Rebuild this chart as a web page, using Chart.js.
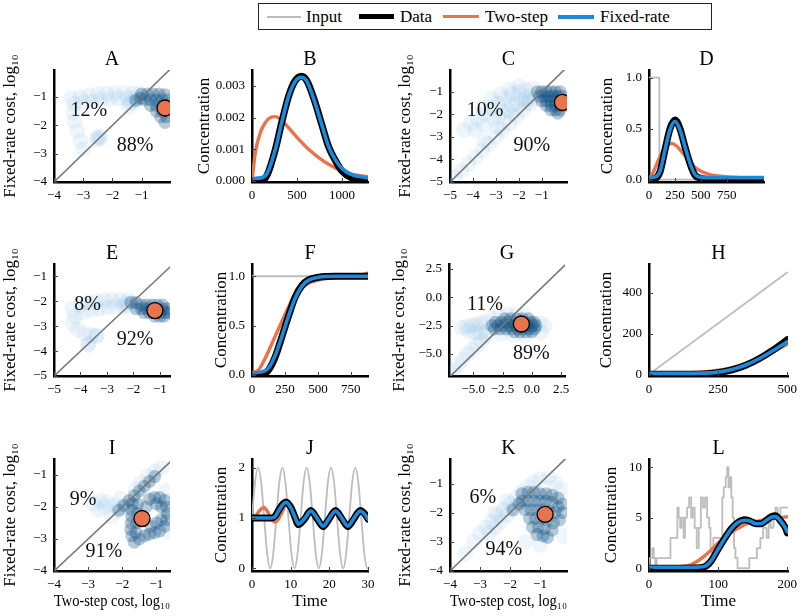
<!DOCTYPE html>
<html><head><meta charset="utf-8">
<script src="https://cdn.jsdelivr.net/npm/chart.js@4/dist/chart.umd.min.js"></script>
<style>
html,body{margin:0;padding:0;background:#fff;}
body{width:800px;height:616px;position:relative;overflow:hidden;font-family:'Liberation Serif','DejaVu Serif',serif;}
canvas{position:absolute;}
#legend{position:absolute;left:258px;top:3px;width:452px;height:25px;border:1px solid #222;background:#fff;z-index:5;}
#legend .sw{position:absolute;top:12px;}
#legend .tx{position:absolute;top:3px;font-size:17px;line-height:19px;color:#000;white-space:nowrap;}
</style></head>
<body>
<div id="legend">
  <div class="sw" style="left:8px;width:34px;height:2px;background:#BDBDBD"></div><div class="tx" style="left:47px">Input</div>
  <div class="sw" style="left:100px;width:35px;height:5px;background:#000;margin-top:-2px"></div><div class="tx" style="left:141px">Data</div>
  <div class="sw" style="left:184px;width:36px;height:3px;background:#E6744C;margin-top:-1px"></div><div class="tx" style="left:226px">Two-step</div>
  <div class="sw" style="left:299px;width:36px;height:4px;background:#1C8ADB;margin-top:-1px"></div><div class="tx" style="left:341px">Fixed-rate</div>
</div>
<script>
// ---------------- DATA ----------------
// tick labels
const ticksA = [-4,-3,-2,-1];
const ticksC = [-5,-4,-3,-2,-1];
const ticksG = [-5,-2.5,0,2.5];
const ticksBx = [0,500,1000];
const ticksBy = [0,0.001,0.002,0.003];
const ticksDx = [0,250,500,750];
const ticksDy = [0,0.5,1.0];
const ticksHx = [0,250,500];
const ticksHy = [0,200,400];
const ticksJx = [0,10,20,30];
const ticksJy = [0,1,2];
const ticksLx = [0,100,200];
const ticksLy = [0,5,10];

// panel B
const bT     = [0,100,170,260,330,410,480,550,610,690,780,850,930,1000,1110,1290];
const bData  = [0,0.00001,0.0002,0.001,0.00184,0.0027,0.00316,0.0033,0.00316,0.00258,0.00174,0.0011,0.00063,0.00032,0.0001,0.00003];
const bFixed = [0.00008,0.0001,0.00025,0.001,0.00184,0.0027,0.00314,0.00327,0.00314,0.00256,0.00174,0.0011,0.00065,0.0004,0.0002,0.0001];
const bTwoT  = [0,37,93,148,204,259,315,407,519,630,741,852,1000,1148,1290];
const bTwo   = [0,0.0009,0.00153,0.00184,0.002,0.00203,0.00195,0.00168,0.00132,0.001,0.00074,0.00053,0.00032,0.00019,0.00014];

// panel D
const dInT   = [0,100,100,1110];
const dIn    = [1,1,0,0];
const dT     = [0,58,106,154,203,251,299,348,396,444,492,589,1110];
const dData  = [0,0.01,0.075,0.29,0.5,0.584,0.5,0.32,0.157,0.043,0.016,0,0];
const dFixed = [0.02,0.025,0.08,0.29,0.49,0.57,0.49,0.32,0.16,0.05,0.025,0.02,0.02];
const dTwoT  = [0,42,90,138,187,219,267,331,396,460,557,685,879,1110];
const dTwo   = [0,0.075,0.19,0.29,0.35,0.354,0.33,0.256,0.174,0.108,0.06,0.033,0.02,0.016];

// panel F
const fInT   = [0,880];
const fIn    = [1,1];
const fT     = [0,76,126,177,227,278,328,379,429,505,631,880];
const fData  = [0,0,0.05,0.185,0.386,0.6,0.79,0.906,0.963,0.99,1.0,1.0];
const fFixed = [0.02,0.03,0.07,0.2,0.39,0.6,0.78,0.9,0.96,0.99,1.0,1.0];
const fTwoT  = [0,51,101,152,202,253,303,354,429,530,657,783,880];
const fTwo   = [0.02,0.05,0.17,0.32,0.47,0.62,0.755,0.856,0.93,0.97,0.99,1.0,1.03];

// panel H
const hInT   = [0,500];
const hIn    = [0,500];
const hT     = [0,100,200,250,300,350,400,450,500];
const hData  = [0,0,2,8,22,45,78,120,170];
const hFixed = [5,5,6,11,24,46,78,118,160];
const hTwo   = [5,7,12,20,33,52,80,112,148];

// panel J
const jInT   = [0,0.79,1.57,2.36,3.14,3.93,4.71,5.5,6.28,7.07,7.85,8.64,9.42,10.21,11.0,11.78,12.57,13.35,14.14,14.92,15.71,16.49,17.28,18.06,18.85,19.63,20.42,21.21,21.99,22.78,23.56,24.35,25.13,25.92,26.7,27.49,28.27,29.06,29.85,30];
const jIn    = [1,1.71,2,1.71,1,0.29,0,0.29, 1,1.71,2,1.71,1,0.29,0,0.29, 1,1.71,2,1.71,1,0.29,0,0.29, 1,1.71,2,1.71,1,0.29,0,0.29, 1,1.71,2,1.71,1,0.29,0,0.01];
const jT     = [0,3,5,6,7,8,8.8,10,11,12,13.6,15.2,16.8,18.4,20,21.6,23.2,24.8,26.4,28,29.2,30];
const jData  = [1,1,1,1.04,1.17,1.28,1.32,1.22,1.04,0.87,0.98,1.15,0.99,0.83,0.99,1.15,0.99,0.83,0.99,1.15,1.08,0.98];
const jFixed = [1,1,1,1.03,1.16,1.27,1.31,1.21,1.04,0.88,0.99,1.14,1.0,0.84,1.0,1.14,1.0,0.84,1.0,1.14,1.07,0.98];
const jTwoT  = [0,1,2,3,4,5,6,7,8,8.8,10,11,12,13.6,15.2,16.8,18.4,20,21.6,23.2,24.8,26.4,28,29.2,30];
const jTwo   = [1,1.05,1.15,1.21,1.13,0.98,0.92,1.0,1.15,1.28,1.2,1.03,0.88,0.99,1.14,0.99,0.84,0.99,1.14,0.99,0.84,0.99,1.14,1.07,0.98];

// panel L
const lInT   = [0,5,7,9,11,31,41,43,45,47,50,52,55,58,61,63,66,69,72,75,78,81,84,87,89,91,93,106,108,111,113,115,117,119,121,123,125,128,145,156,161,165,170,173,176,180,183,186,190,193,200];
const lIn    = [0,1,2,1,0,1,3,6,5,4,5,3,5,6,7,5,6,4,2,4,7,6,7,5,4,2,1,3,7,8,9,10,8,9,7,5,2,1,0,1,2,3,4,3,5,4,5,6,5,6,6];
const lT     = [0,60,75,83,90,100,109,119,128,138,145,155,162,169,177,183,190,198,200];
const lData  = [0,0,0.05,0.23,0.73,1.9,2.9,3.9,4.5,4.8,4.7,4.4,4.4,4.7,5.1,5.2,4.7,3.9,3.5];
const lFixed = [0.1,0.1,0.12,0.28,0.75,1.9,2.9,3.9,4.5,4.75,4.7,4.4,4.4,4.7,5.05,5.1,4.7,3.9,3.6];
const lTwoT  = [0,40,50,60,70,80,90,100,110,120,130,140,150,160,170,180,190,200];
const lTwo   = [0.1,0.15,0.2,0.35,0.7,1.2,1.8,2.5,3.1,3.6,4.0,4.35,4.55,4.7,4.85,4.95,5.0,5.1];

// scatter panels: cost clouds [two-step, fixed-rate] (log10), best-fit marker, percentages
const aCloud = [[-3.4,-1.05],[-3.1,-1.0],[-2.8,-0.95],[-2.5,-0.9],[-2.2,-0.88],[-1.9,-0.86],[-1.6,-0.86],[-1.3,-0.86],[-1.1,-0.9],[-3.3,-1.25],[-3.0,-1.2],[-2.7,-1.15],[-2.4,-1.1],[-2.1,-1.08],[-1.8,-1.06],[-1.5,-1.05],[-3.35,-1.55],[-3.3,-1.85],[-3.2,-2.2],[-3.1,-2.55],[-3.0,-2.85],[-2.55,-2.45],[-2.5,-2.5],[-2.45,-2.4],[-2.4,-2.45],[-1.45,-1.35],[-1.3,-1.22],[-1.15,-1.1],[-1.0,-1.0],[-1.4,-1.2],[-1.2,-1.05]];
const aCore  = [[-1.0,-0.9],[-0.8,-0.9],[-0.6,-0.9],[-0.4,-0.9],[-0.2,-0.92],[-0.9,-1.1],[-0.7,-1.1],[-0.5,-1.1],[-0.3,-1.1],[-0.1,-1.1],[-0.7,-1.3],[-0.5,-1.3],[-0.3,-1.3],[-0.1,-1.3],[-0.5,-1.5],[-0.3,-1.5],[-0.1,-1.5],[-0.35,-1.7],[-0.15,-1.7],[-0.2,-1.9],[-1.2,-1.12],[-1.05,-1.05]];
const aMarker = [-0.2,-1.39];
const pctA = ['12%','88%'];

const cCloud = [[-4.4,-2.7],[-4.1,-2.4],[-3.8,-2.2],[-3.5,-2.0],[-3.2,-1.7],[-2.9,-1.5],[-2.6,-1.3],[-2.3,-1.1],[-2.0,-1.0],[-1.7,-0.9],[-1.4,-0.85],[-3.9,-2.7],[-3.5,-2.5],[-3.1,-2.2],[-2.7,-1.9],[-2.3,-1.6],[-1.9,-1.4],[-1.5,-1.2],[-3.6,-1.7],[-3.2,-1.3],[-2.8,-1.1],[-2.4,-0.9],[-2.0,-0.75],[-2.9,-2.1],[-2.5,-1.8],[-2.1,-1.5],[-1.7,-1.3],[-4.8,-4.8],[-4.5,-4.5],[-4.2,-4.2],[-3.9,-3.9],[-3.6,-3.6],[-3.3,-3.3],[-3.0,-3.0],[-2.7,-2.7],[-2.4,-2.4],[-2.1,-2.1],[-1.8,-1.8],[-1.5,-1.5],[-1.3,-1.3],[-3.5,-3.2],[-2.9,-2.6],[-2.3,-2.0],[-1.7,-1.5]];
const cCore  = [[-1.2,-1.0],[-1.0,-1.0],[-0.8,-1.0],[-0.6,-1.0],[-0.4,-1.0],[-0.2,-1.0],[-1.1,-1.2],[-0.9,-1.2],[-0.7,-1.2],[-0.5,-1.2],[-0.3,-1.2],[-0.1,-1.2],[-1.0,-1.4],[-0.8,-1.4],[-0.6,-1.4],[-0.4,-1.4],[-0.2,-1.4],[-0.05,-1.4],[-0.8,-1.6],[-0.6,-1.6],[-0.4,-1.6],[-0.2,-1.6],[-0.05,-1.6],[-0.6,-1.8],[-0.4,-1.8],[-0.2,-1.8],[-0.3,-1.95]];
const cMarker = [-0.1,-1.47];
const pctC = ['10%','90%'];

const eCloud = [[-4.3,-2.3],[-4.0,-2.15],[-3.7,-2.05],[-3.4,-2.0],[-3.1,-1.95],[-2.8,-1.95],[-2.5,-1.95],[-2.2,-1.95],[-4.2,-2.6],[-3.9,-2.45],[-3.6,-2.35],[-3.3,-2.3],[-3.0,-2.25],[-2.7,-2.2],[-2.4,-2.2],[-4.3,-2.9],[-4.1,-3.15],[-3.85,-3.3],[-3.6,-3.35],[-3.72,-3.72],[-3.7,-3.75],[-3.4,-3.4],[-3.38,-3.36],[-2.2,-2.2],[-2.05,-2.05],[-2.3,-2.1]];
const eCore  = [[-2.1,-2.05],[-1.9,-2.05],[-1.7,-2.15],[-1.5,-2.15],[-1.3,-2.15],[-1.1,-2.15],[-0.9,-2.15],[-1.9,-2.3],[-1.7,-2.3],[-1.5,-2.3],[-1.3,-2.3],[-1.1,-2.3],[-0.9,-2.3],[-0.72,-2.3],[-1.6,-2.45],[-1.4,-2.45],[-1.2,-2.45],[-1.0,-2.45],[-0.8,-2.45],[-0.68,-2.45],[-1.2,-2.6],[-1.0,-2.6],[-0.85,-2.6]];
const eMarker = [-1.19,-2.37];
const pctE = ['8%','92%'];

const gCloud = [[-6.7,-6.5],[-6.3,-6.0],[-5.9,-5.5],[-5.5,-5.0],[-5.1,-4.6],[-4.7,-4.2],[-4.3,-3.8],[-3.9,-3.4],[-6.0,-2.7],[-5.6,-2.6],[-5.2,-2.5],[-4.8,-2.4],[-4.4,-2.3],[-4.0,-2.2],[-5.4,-3.0],[-4.9,-3.1],[-4.4,-3.1],[-3.9,-3.05],[-3.4,-1.9],[-2.8,-1.6],[-2.1,-1.5],[-1.4,-1.5],[-0.6,-1.6],[0.7,-2.3],[1.1,-2.5],[0.8,-3.1],[-0.6,-3.4],[-1.6,-3.3],[-2.6,-3.2]];
const gCore  = [[-2.3,-1.9],[-1.8,-1.9],[-1.3,-1.9],[-0.8,-1.9],[-0.3,-1.9],[-3.1,-2.2],[-2.6,-2.2],[-2.1,-2.2],[-1.6,-2.2],[-1.1,-2.2],[-0.6,-2.2],[-0.1,-2.2],[0.2,-2.2],[-3.4,-2.5],[-2.9,-2.5],[-2.4,-2.5],[-1.9,-2.5],[-1.4,-2.5],[-0.9,-2.5],[-0.4,-2.5],[0.1,-2.5],[0.35,-2.5],[-3.2,-2.8],[-2.7,-2.8],[-2.2,-2.8],[-1.7,-2.8],[-1.2,-2.8],[-0.7,-2.8],[-0.2,-2.8],[0.25,-2.8],[-1.5,-3.05],[-1.0,-3.05],[-0.5,-3.05],[0.0,-3.05]];
const gMarker = [-0.89,-2.36];
const pctG = ['11%','89%'];

const iCloud = [[-2.85,-1.9],[-2.65,-1.8],[-2.45,-1.85],[-2.25,-1.95],[-2.7,-2.1],[-2.05,-1.75],[-1.95,-1.95],[-2.3,-2.3],[-2.1,-2.1],[-1.9,-2.05],[-1.6,-1.45],[-1.45,-1.25],[-1.25,-1.05],[-1.05,-0.9],[-0.85,-0.78],[-0.7,-1.5],[-0.65,-2.8],[-2.5,-2.0]];
const iCore  = [[-2.1,-2.1],[-1.95,-1.95],[-1.8,-1.8],[-1.65,-1.65],[-1.5,-1.5],[-1.35,-1.35],[-1.2,-1.2],[-1.05,-1.05],[-1.7,-1.9],[-1.72,-2.1],[-1.72,-2.3],[-1.74,-2.5],[-1.75,-2.7],[-1.72,-2.9],[-1.65,-3.1],[-1.55,-1.9],[-1.55,-2.2],[-1.58,-2.5],[-1.6,-2.8],[-1.5,-3.0],[-1.35,-2.9],[-1.2,-2.85],[-1.05,-2.8],[-0.9,-2.75],[-1.2,-1.75],[-1.05,-1.7],[-0.9,-1.7],[-0.75,-1.8],[-0.7,-2.0],[-0.68,-2.2],[-0.7,-2.4],[-0.75,-2.6],[-0.85,-2.0],[-1.0,-1.9],[-0.85,-2.4],[-1.0,-2.5],[-1.15,-2.6],[-1.3,-2.0]];
const iMarker = [-1.42,-2.36];
const pctI = ['9%','91%'];

const kCloud = [[-3.2,-3.0],[-3.0,-2.7],[-2.8,-2.5],[-2.6,-2.3],[-2.4,-2.1],[-2.2,-1.9],[-2.0,-1.7],[-1.8,-1.5],[-1.6,-1.3],[-1.4,-1.1],[-1.2,-0.95],[-1.0,-0.85],[-0.7,-0.8],[-2.7,-2.7],[-2.3,-2.3],[-1.9,-1.9],[-2.5,-2.0],[-2.1,-1.6],[-0.3,-1.2],[-0.2,-2.8],[-1.5,-3.0],[-1.0,-3.1],[-3.5,-3.4],[-0.5,-1.0],[-2.5,-2.5],[-2.1,-2.1],[-1.7,-1.7]];
const kCore  = [[-1.6,-1.35],[-1.4,-1.3],[-1.2,-1.3],[-1.0,-1.35],[-0.8,-1.35],[-0.6,-1.4],[-0.4,-1.5],[-0.25,-1.7],[-1.6,-1.6],[-1.4,-1.6],[-1.2,-1.6],[-1.0,-1.6],[-0.8,-1.6],[-0.6,-1.65],[-0.4,-1.8],[-0.25,-2.0],[-1.5,-1.9],[-1.3,-1.9],[-1.1,-1.9],[-0.9,-1.9],[-0.7,-1.95],[-0.5,-2.0],[-0.35,-2.25],[-1.35,-2.2],[-1.15,-2.2],[-0.95,-2.2],[-0.75,-2.25],[-0.55,-2.35],[-1.25,-2.5],[-1.05,-2.5],[-0.85,-2.55],[-0.6,-2.6],[-1.1,-2.75],[-0.9,-2.8],[-0.75,-2.85],[-1.9,-1.9],[-1.7,-1.7]];
const kMarker = [-0.83,-2.06];
const pctK = ['6%','94%'];

// ---------------- STYLE / LAYOUT ----------------
const FONT = "'Liberation Serif','DejaVu Serif',serif";
Chart.defaults.font.family = FONT;
const C_ORANGE = '#E6744C', C_BLUE = '#1C8ADB', C_GRAY = '#BDBDBD';
const YW = 60, PH = 112;
const ROWT = [70, 264, 459];
const YLAB_COST = 'Fixed-rate cost, log\u2081\u2080';
const XLAB_COST = 'Two-step cost, log\u2081\u2080';

const pts = (xs, ys) => xs.map((x, i) => ({x: x, y: ys[i]}));
const pairs = arr => arr.map(p => ({x: p[0], y: p[1]}));
const fmt = dec => v => (dec ? Number(v).toFixed(dec) : String(Math.round(v))).replace('-', '\u2212');

const tickPlugin = {
  id: 'inticks',
  afterDatasetsDraw(chart) {
    const {ctx, chartArea: a} = chart;
    const xs = chart.scales.x, ys = chart.scales.y;
    ctx.save();
    ctx.strokeStyle = '#444'; ctx.lineWidth = 1;
    ctx.beginPath();
    xs.ticks.forEach(t => { const p = Math.round(xs.getPixelForValue(t.value)) + 0.5; ctx.moveTo(p, a.bottom); ctx.lineTo(p, a.bottom - 4); });
    ys.ticks.forEach(t => { const p = Math.round(ys.getPixelForValue(t.value)) + 0.5; ctx.moveTo(a.left, p); ctx.lineTo(a.left + 4, p); });
    ctx.stroke();
    ctx.restore();
  }
};
function pctPlugin(labels, pos) {
  return { id: 'pct', afterDatasetsDraw(chart) {
    const {ctx, chartArea: a} = chart;
    ctx.save();
    ctx.font = '20px ' + FONT; ctx.fillStyle = '#111';
    ctx.textAlign = 'center'; ctx.textBaseline = 'middle';
    labels.forEach((t, i) => ctx.fillText(t, a.left + pos[i][0] * a.width, a.top + pos[i][1] * a.height));
    ctx.restore();
  }};
}

function makePanel(p) {
  const T = ROWT[p.row];
  const hx = p.row === 2 ? 44 : 22;
  const cv = document.createElement('canvas');
  const cw = YW + p.W + YW, ch = 22 + PH + hx;
  cv.width = cw; cv.height = ch;
  cv.style.left = (p.L - YW) + 'px';
  cv.style.top = (T - 22) + 'px';
  cv.style.width = cw + 'px'; cv.style.height = ch + 'px';
  document.body.appendChild(cv);

  const tickFont = {family: FONT, size: 13};
  const titleFont = {family: FONT, size: 17, lineHeight: 1};
  const scales = {
    x: {
      type: 'linear', min: p.xr[0], max: p.xr[1],
      afterBuildTicks: s => { s.ticks = p.xt.map(v => ({value: v})); },
      ticks: {font: tickFont, color: '#000', padding: 6, maxRotation: 0, autoSkip: false, callback: fmt(p.xdec || 0)},
      grid: {display: false, drawTicks: false},
      border: {display: true, color: '#000', width: 2.5},
      title: {display: !!p.xlabel, text: p.xlabel || '', font: titleFont, color: '#000', padding: {top: 0, bottom: 4.5}},
      afterFit: s => { s.height = hx; s.paddingLeft = 0; s.paddingRight = 0; }
    },
    y: {
      type: 'linear', min: p.yr[0], max: p.yr[1],
      afterBuildTicks: s => { s.ticks = p.yt.map(v => ({value: v})); },
      ticks: {font: tickFont, color: '#000', padding: 7, autoSkip: false, callback: fmt(p.ydec || 0)},
      grid: {display: false, drawTicks: false},
      border: {display: true, color: '#000', width: 2.5},
      title: {display: true, text: p.ylabel, font: titleFont, color: '#000', padding: {top: YW - p.yd - 8.5, bottom: 0}},
      afterFit: s => { s.width = YW; s.paddingTop = 0; s.paddingBottom = 0; }
    },
    yPad: {
      type: 'linear', position: 'right', display: true,
      ticks: {display: false}, grid: {display: false, drawTicks: false}, border: {display: false},
      afterFit: s => { s.width = YW; s.paddingTop = 0; s.paddingBottom = 0; }
    }
  };
  let datasets, plugins = [tickPlugin];
  if (p.kind === 'scatter') {
    const lo = Math.min(p.xr[0], p.yr[0]), hi = Math.max(p.xr[1], p.yr[1]);
    datasets = [
      {type: 'scatter', data: pairs([p.marker]), pointRadius: 8, backgroundColor: C_ORANGE, borderColor: '#000', borderWidth: 1.3},
      {type: 'line', data: [{x: lo, y: lo}, {x: hi, y: hi}], borderColor: '#777', borderWidth: 1.6, pointRadius: 0, clip: 0, fill: false},
      {type: 'scatter', data: pairs(p.core), pointRadius: 6.5, backgroundColor: 'rgba(14,78,128,0.3)', borderWidth: 0},
      {type: 'scatter', data: pairs(p.cloud), pointRadius: 8, backgroundColor: 'rgba(110,172,218,0.11)', borderWidth: 0}
    ];
    plugins.push(pctPlugin(p.pct, p.pctPos));
  } else {
    const ln = (d, c, w) => ({type: 'line', data: d, borderColor: c, borderWidth: w, pointRadius: 0, fill: false, cubicInterpolationMode: 'monotone', borderJoinStyle: 'round', borderCapStyle: 'round'});
    datasets = [
      ln(p.fixed, C_BLUE, 3.6),
      ln(p.data, '#000', 7),
      ln(p.two, C_ORANGE, 3.4),
      Object.assign(ln(p.input, C_GRAY, 1.8), p.stepped ? {stepped: 'after', cubicInterpolationMode: 'default'} : {tension: 0})
    ];
  }
  new Chart(cv, {
    type: 'scatter',
    data: {datasets: datasets},
    options: {
      responsive: false, animation: false, devicePixelRatio: 1, events: [],
      layout: {padding: {top: 2, left: 0, right: 0, bottom: 0}},
      scales: scales,
      plugins: {
        legend: {display: false}, tooltip: {enabled: false},
        title: {display: true, text: p.title, font: {family: FONT, size: 20, lineHeight: 1, weight: 'normal'}, color: '#000', padding: 0}
      }
    },
    plugins: plugins
  });
}

const CONC = 'Concentration';
const panels = [
  {title: 'A', kind: 'scatter', row: 0, L: 54,  W: 116, yd: 43, xr: [-4, -0.03], yr: [-4, -0.05], xt: ticksA, yt: ticksA, ylabel: YLAB_COST, cloud: aCloud, core: aCore, marker: aMarker, pct: pctA, pctPos: [[0.30, 0.36], [0.70, 0.68]]},
  {title: 'B', kind: 'line', row: 0, L: 252, W: 116, yd: 47, xr: [0, 1290], yr: [-0.00003, 0.0035], xt: ticksBx, yt: ticksBy, ydec: 3, ylabel: CONC, input: [], data: pts(bT, bData), fixed: pts(bT, bFixed), two: pts(bTwoT, bTwo)},
  {title: 'C', kind: 'scatter', row: 0, L: 450, W: 117, yd: 44, xr: [-5, 0.1], yr: [-5, -0.03], xt: ticksC, yt: ticksC, ylabel: YLAB_COST, cloud: cCloud, core: cCore, marker: cMarker, pct: pctC, pctPos: [[0.30, 0.36], [0.70, 0.68]]},
  {title: 'D', kind: 'line', row: 0, L: 649, W: 115, yd: 41, xr: [0, 1110], yr: [-0.023, 1.075], xt: ticksDx, yt: ticksDy, ydec: 1, ylabel: CONC, input: pts(dInT, dIn), data: pts(dT, dData), fixed: pts(dT, dFixed), two: pts(dTwoT, dTwo)},
  {title: 'E', kind: 'scatter', row: 1, L: 54,  W: 116, yd: 43, xr: [-5, -0.62], yr: [-5, -0.5], xt: ticksC, yt: ticksC, ylabel: YLAB_COST, cloud: eCloud, core: eCore, marker: eMarker, pct: pctE, pctPos: [[0.29, 0.36], [0.70, 0.68]]},
  {title: 'F', kind: 'line', row: 1, L: 252, W: 116, yd: 30, xr: [0, 880], yr: [-0.012, 1.124], xt: ticksDx, yt: ticksDy, ydec: 1, ylabel: CONC, input: pts(fInT, fIn), data: pts(fT, fData), fixed: pts(fT, fFixed), two: pts(fTwoT, fTwo)},
  {title: 'G', kind: 'scatter', row: 1, L: 449, W: 116, yd: 49, xr: [-7.08, 2.84], yr: [-6.95, 2.94], xt: ticksG, yt: ticksG, xdec: 1, ydec: 1, ylabel: YLAB_COST, cloud: gCloud, core: gCore, marker: gMarker, pct: pctG, pctPos: [[0.31, 0.36], [0.71, 0.80]]},
  {title: 'H', kind: 'line', row: 1, L: 649, W: 139, yd: 42, xr: [0, 503], yr: [-8, 542], xt: ticksHx, yt: ticksHy, ylabel: CONC, input: pts(hInT, hIn), data: pts(hT, hData), fixed: pts(hT, hFixed), two: pts(hT, hTwo)},
  {title: 'I', kind: 'scatter', row: 2, L: 54,  W: 116, yd: 43, xr: [-4, -0.6], yr: [-4, -0.5], xt: ticksA, yt: ticksA, ylabel: YLAB_COST, xlabel: XLAB_COST, cloud: iCloud, core: iCore, marker: iMarker, pct: pctI, pctPos: [[0.25, 0.36], [0.43, 0.83]]},
  {title: 'J', kind: 'line', row: 2, L: 252, W: 116, yd: 30, xr: [0, 30], yr: [-0.05, 2.17], xt: ticksJx, yt: ticksJy, ylabel: CONC, xlabel: 'Time', input: pts(jInT, jIn), data: pts(jT, jData), fixed: pts(jT, jFixed), two: pts(jTwoT, jTwo)},
  {title: 'K', kind: 'scatter', row: 2, L: 450, W: 117, yd: 44, xr: [-4, -0.1], yr: [-4, -0.16], xt: ticksA, yt: ticksA, ylabel: YLAB_COST, xlabel: XLAB_COST, cloud: kCloud, core: kCore, marker: kMarker, pct: pctK, pctPos: [[0.28, 0.35], [0.46, 0.81]]},
  {title: 'L', kind: 'line', row: 2, L: 649, W: 139, yd: 37, xr: [0, 201], yr: [-0.27, 10.8], xt: ticksLx, yt: ticksLy, ylabel: CONC, xlabel: 'Time', stepped: true, input: pts(lInT, lIn), data: pts(lT, lData), fixed: pts(lT, lFixed), two: pts(lTwoT, lTwo)}
];
panels.forEach(makePanel);
</script>
</body></html>
